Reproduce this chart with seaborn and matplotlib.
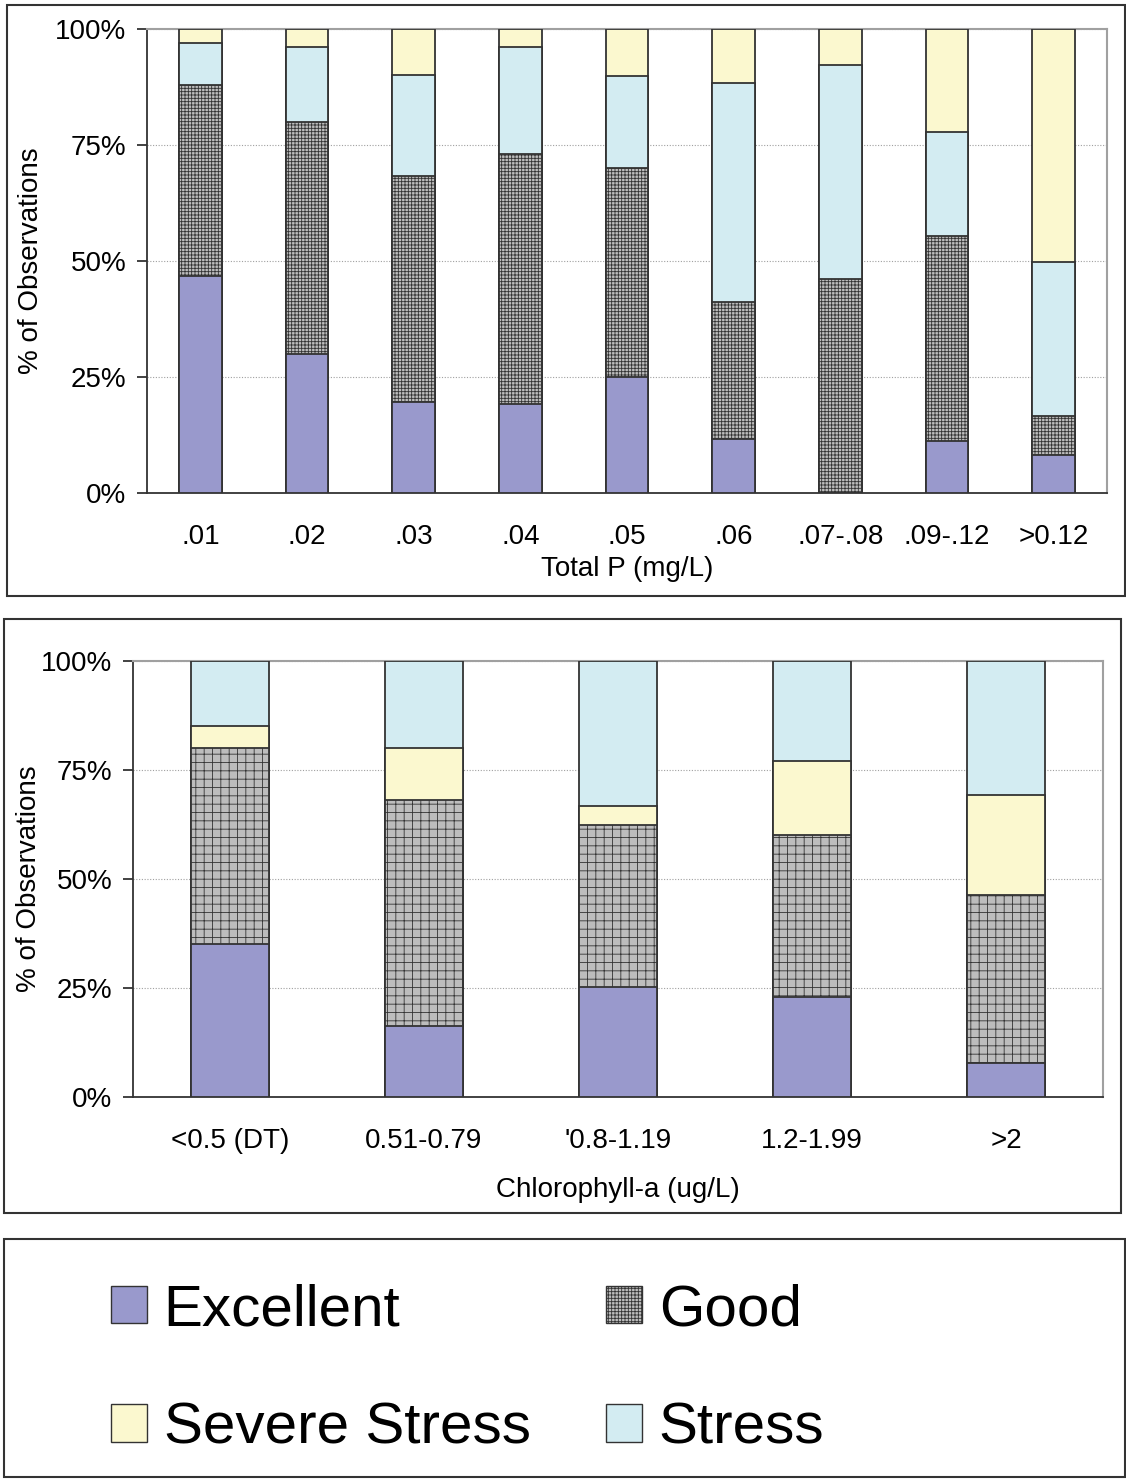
import matplotlib
matplotlib.use('Agg')
import matplotlib.pyplot as plt
from matplotlib.patches import Rectangle, Patch
from matplotlib.ticker import PercentFormatter
import pandas as pd
import seaborn as sns

plt.rcParams['font.family'] = ['Liberation Sans', 'DejaVu Sans']
plt.rcParams['hatch.linewidth'] = 0.6

# ---- data (percent of observations) ----
p_cats = ['.01', '.02', '.03', '.04', '.05', '.06', '.07-.08', '.09-.12', '>0.12']
p_excellent = [46.8, 30.0, 19.6, 19.2, 25.0, 11.6, 0.0, 11.2, 8.2]
p_good = [41.1, 50.0, 48.7, 53.9, 45.0, 29.6, 46.1, 44.2, 8.4]
p_stress = [9.1, 16.1, 21.8, 23.0, 19.9, 47.2, 46.1, 22.4, 33.2]
p_severe = [3.0, 3.9, 9.9, 3.9, 10.1, 11.6, 7.8, 22.2, 50.2]

chl_cats = ['<0.5 (DT)', '0.51-0.79', "'0.8-1.19", '1.2-1.99', '>2']
chl_excellent = [35.1, 16.3, 25.2, 22.9, 7.8]
chl_good = [44.9, 51.8, 37.2, 37.2, 38.5]
chl_severe = [5.1, 11.9, 4.3, 17.0, 23.0]
chl_stress = [14.9, 20.0, 33.3, 22.9, 30.7]

C_EXC = '#9999cc'
C_GOOD = '#bdbdbd'
C_SEV = '#fbf8cf'
C_STR = '#d3ecf2'
EDGE = '#333333'

fig = plt.figure(figsize=(11.26, 14.79), dpi=100)
W, H = 1126, 1479


def frame(x0, y0, x1, y1):
    fig.patches.append(Rectangle((x0 / W, 1 - y1 / H), (x1 - x0) / W, (y1 - y0) / H,
                                 transform=fig.transFigure, fill=False,
                                 edgecolor='#333333', linewidth=1.5))


def stacked(ax, cats, layers, hatch):
    # layers: list of (name, values, color) from bottom to top
    df = pd.DataFrame({'cat': cats})
    cum = [0.0] * len(cats)
    tops = []
    for name, vals, color in layers:
        cum = [c + v for c, v in zip(cum, vals)]
        tops.append((name, list(cum), color))
    # draw tallest first so lower layers overlay
    for name, vals, color in reversed(tops):
        df[name] = vals
        sns.barplot(data=df, x='cat', y=name, color=color, width=0.4,
                    edgecolor=EDGE, linewidth=1.3, saturation=1, ax=ax,
                    hatch=hatch if name == 'Good' else None, zorder=3)
    ax.set_ylim(0, 100)
    ax.set_yticks([0, 25, 50, 75, 100])
    ax.yaxis.set_major_formatter(PercentFormatter(decimals=0))
    ax.grid(axis='y', linestyle=(0, (1, 1.5)), color='#a0a0a0', linewidth=0.8, zorder=0)
    ax.set_axisbelow(True)
    for s in ['top', 'right']:
        ax.spines[s].set_color('#a0a0a0')
        ax.spines[s].set_linewidth(1.5)
    for s in ['left', 'bottom']:
        ax.spines[s].set_color('#333333')
        ax.spines[s].set_linewidth(1.3)
    ax.tick_params(axis='y', length=7, width=1.3, labelsize=20, pad=8, color='#333333')
    ax.tick_params(axis='x', length=0, labelsize=20, pad=22)
    ax.set_ylabel('% of Observations', fontsize=20)


# ---- top chart ----
frame(7, 5, 1125, 596)
ax1 = fig.add_axes([147 / W, 1 - 493 / H, 960 / W, 464 / H])
stacked(ax1, p_cats,
        [('Excellent', p_excellent, C_EXC), ('Good', p_good, C_GOOD),
         ('Stress', p_stress, C_STR), ('Severe Stress', p_severe, C_SEV)],
        '+++++')
ax1.set_xlabel('Total P (mg/L)', fontsize=20, labelpad=5)
ax1.yaxis.set_label_coords(-0.107, 0.5)

# ---- bottom chart ----
frame(4, 619, 1121, 1213)
ax2 = fig.add_axes([133 / W, 1 - 1097 / H, 970 / W, 436 / H])
stacked(ax2, chl_cats,
        [('Excellent', chl_excellent, C_EXC), ('Good', chl_good, C_GOOD),
         ('Severe Stress', chl_severe, C_SEV), ('Stress', chl_stress, C_STR)],
        '++')
ax2.set_xlabel('Chlorophyll-a (ug/L)', fontsize=20, labelpad=17)
ax2.yaxis.set_label_coords(-0.094, 0.5)

# ---- legend panel ----
frame(4, 1239, 1125, 1477)
handles = [Patch(facecolor=C_EXC, edgecolor=EDGE, label='Excellent'),
           Patch(facecolor=C_SEV, edgecolor=EDGE, label='Severe Stress'),
           Patch(facecolor=C_GOOD, edgecolor=EDGE, hatch='+++++', label='Good'),
           Patch(facecolor=C_STR, edgecolor=EDGE, label='Stress')]
fig.legend(handles=handles, ncol=2, loc='upper left',
           bbox_to_anchor=(111 / W, 1 - 1283 / H), frameon=False,
           fontsize=42, handlelength=0.62, handleheight=0.62,
           handletextpad=0.28, labelspacing=1.1, columnspacing=1.3,
           borderpad=0, borderaxespad=0)

fig.savefig('out.png', dpi=100)
